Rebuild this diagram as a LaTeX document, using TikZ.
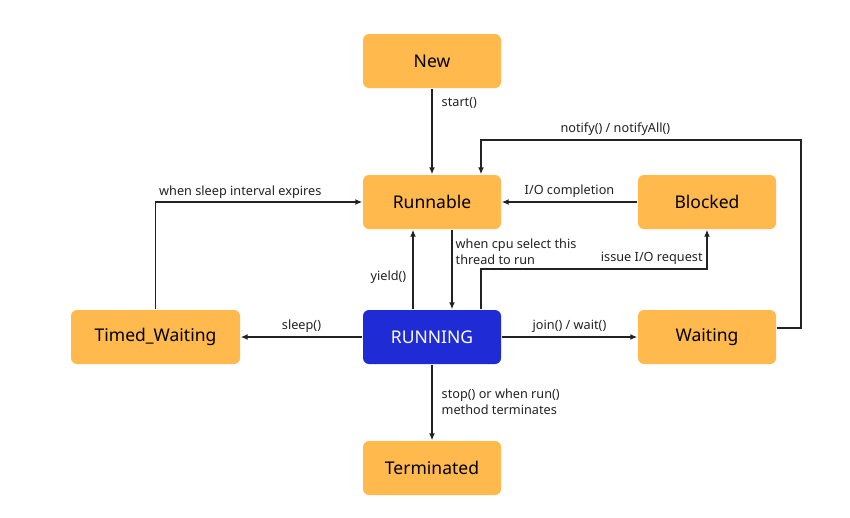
\documentclass[tikz,border=0pt]{standalone}
\usepackage{fontspec}
\setmainfont{Noto Sans}
\usetikzlibrary{arrows.meta, positioning}
\definecolor{stateorange}{RGB}{255,185,76}
\definecolor{runblue}{RGB}{31,44,214}
\definecolor{linegray}{RGB}{34,34,34}

\begin{document}
\begin{tikzpicture}[x=1pt, y=-1pt, line width=1.4pt, draw=linegray,
    >={Latex[length=7pt,width=6pt]},
    lbl/.style={font=\fontsize{12.7}{15.5}\selectfont, text=linegray, inner sep=3pt}]
\useasboundingbox (0,0) rectangle (850,517);
\begin{scope}[every node/.style={rounded corners=6pt, fill=stateorange, minimum width=138pt, minimum height=54pt, font=\fontsize{17.5}{20}\selectfont, text=black}]
    \node (new) at (432,61) {New};
    \node (runnable) at (432,202) {Runnable};
    \node (blocked) at (707,202) {Blocked};
    \node[minimum width=169pt] (timed) at (155.5,337) {Timed\_Waiting};
    \node[fill=runblue, text=white] (running) at (432,337) {RUNNING};
    \node (waiting) at (707,337) {Waiting};
    \node (terminated) at (432,468) {Terminated};
\end{scope}

\coordinate (notifytop) at (801,140);
\coordinate (ioturn) at (707,269);

\draw[->] (new) -- (runnable) node[lbl, pos=0.17, right=6pt] {start()};
\draw[->] (blocked) -- (runnable) node[lbl, midway, above=1pt] {I/O completion};
\draw[->] ([yshift=9pt]waiting.east) -| (notifytop) -| ([xshift=49pt]runnable.north) node[lbl, pos=0.29, above=1pt] {notify() / notifyAll()};
\draw[->] ([xshift=49pt]running.north) |- (ioturn) node[lbl, above left=1pt] {issue I/O request} -- (blocked.south);
\draw[->] ([xshift=20pt]runnable.south) -- ([xshift=20pt]running.north) node[lbl, pos=0.07, anchor=north west, align=left] {when cpu select this\\thread to run};
\draw[->] ([xshift=-19pt]running.north) -- ([xshift=-19pt]runnable.south) node[lbl, pos=0.4, left=3pt] {yield()};
\draw[->] (running) -- (timed) node[lbl, midway, above=1pt] {sleep()};
\draw[->] (timed) |- (runnable) node[lbl, pos=0.5, above right=0pt] {when sleep interval expires};
\draw[->] (running) -- (waiting) node[lbl, midway, above=1pt] {join() / wait()};
\draw[->] (running) -- (terminated) node[lbl, pos=0.49, right=6pt, align=left] {stop() or when run()\\method terminates};
\end{tikzpicture}
\end{document}
